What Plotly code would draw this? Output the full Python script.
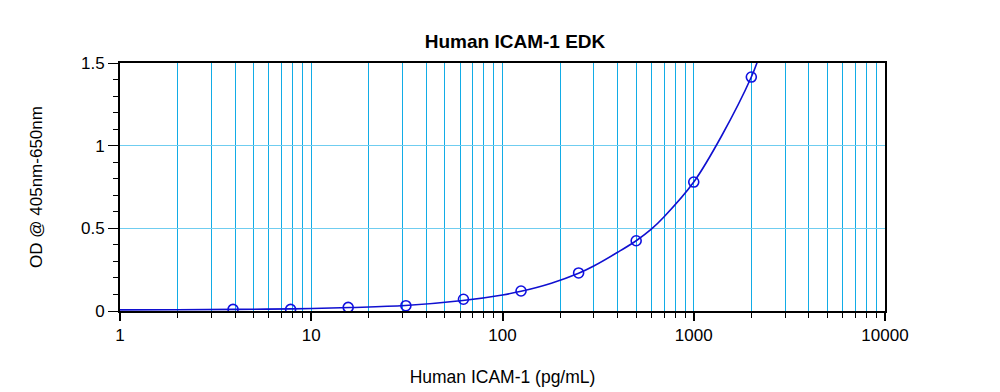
import plotly.graph_objects as go

# Standard points
conc = [3.9, 7.8, 15.6, 31.25, 62.5, 125, 250, 500, 1000, 2000]
od = [0.010, 0.010, 0.022, 0.032, 0.071, 0.121, 0.230, 0.425, 0.780, 1.415]

# Fitted curve
curve_x = [1, 2, 4, 8, 16, 31, 62, 100, 125, 180, 250, 300, 400, 500, 600, 700, 1000, 1400, 2000, 2200]
curve_y = [0.007, 0.008, 0.010, 0.013, 0.021, 0.033, 0.063, 0.097, 0.119, 0.168, 0.228, 0.272, 0.355, 0.425, 0.495, 0.570, 0.780, 1.060, 1.415, 1.540]

x_tickvals = [1, 10, 100, 1000, 10000]
x_ticktext = ["1", "10", "100", "1000", "10000"]
x_minor = [m * 10 ** d for d in range(4) for m in range(2, 10)]
y_tickvals = [0, 0.5, 1, 1.5]
y_ticktext = ["0", "0.5", "1", "1.5"]

grid_col = "#12ace6"
font = "Liberation Sans, Arial, sans-serif"

fig = go.Figure()
fig.add_trace(go.Scatter(x=curve_x, y=curve_y, mode="lines", line=dict(color="#1010d0", width=1.6, shape="spline"),
                         hoverinfo="skip", showlegend=False, cliponaxis=True))
fig.add_trace(go.Scatter(x=conc, y=od, mode="markers",
                         marker=dict(symbol="circle-open", size=10, color="#1010e0", line=dict(width=1.6, color="#1010e0")),
                         showlegend=False))

fig.update_layout(
    width=1000, height=392,
    margin=dict(l=120, r=115, t=63, b=81, autoexpand=False),
    paper_bgcolor="white", plot_bgcolor="white",
    font=dict(family=font, color="black", size=17),
    title=dict(text="<b>Human ICAM-1 EDK</b>", x=515 / 1000, xanchor="center", y=1 - 41 / 392, yanchor="middle",
               font=dict(size=19, family=font, color="black")),
    xaxis=dict(type="log", range=[0, 4], tickvals=x_tickvals, ticktext=x_ticktext, automargin=False,
               showline=True, linecolor="black", linewidth=2, mirror=True,
               ticks="outside", ticklen=8, tickwidth=1.5, tickcolor="black",
               showgrid=True, gridcolor=grid_col, gridwidth=1,
               minor=dict(tickvals=x_minor, ticks="outside", ticklen=5, tickwidth=1, tickcolor="black",
                          showgrid=True, gridcolor=grid_col, gridwidth=1),
               title=dict(text="Human ICAM-1 (pg/mL)", font=dict(size=17.5), standoff=26),
               zeroline=False, tickfont=dict(size=17)),
    yaxis=dict(range=[0, 1.5], tickvals=y_tickvals, ticktext=y_ticktext, automargin=False,
               showline=True, linecolor="black", linewidth=2, mirror=True,
               ticks="outside", ticklen=10, tickwidth=1, tickcolor="black",
               showgrid=True, gridcolor="#6fcdf0", gridwidth=1,
               minor=dict(dtick=0.1, ticks="outside", ticklen=5, tickwidth=1, tickcolor="black", showgrid=False),
               title=dict(text="OD @ 405nm-650nm", font=dict(size=17), standoff=34),
               zeroline=False, tickfont=dict(size=17)),
)

fig.write_html("out.html", config={"displayModeBar": False},
               post_script="document.body.style.margin='0px';document.body.style.overflow='hidden';")
